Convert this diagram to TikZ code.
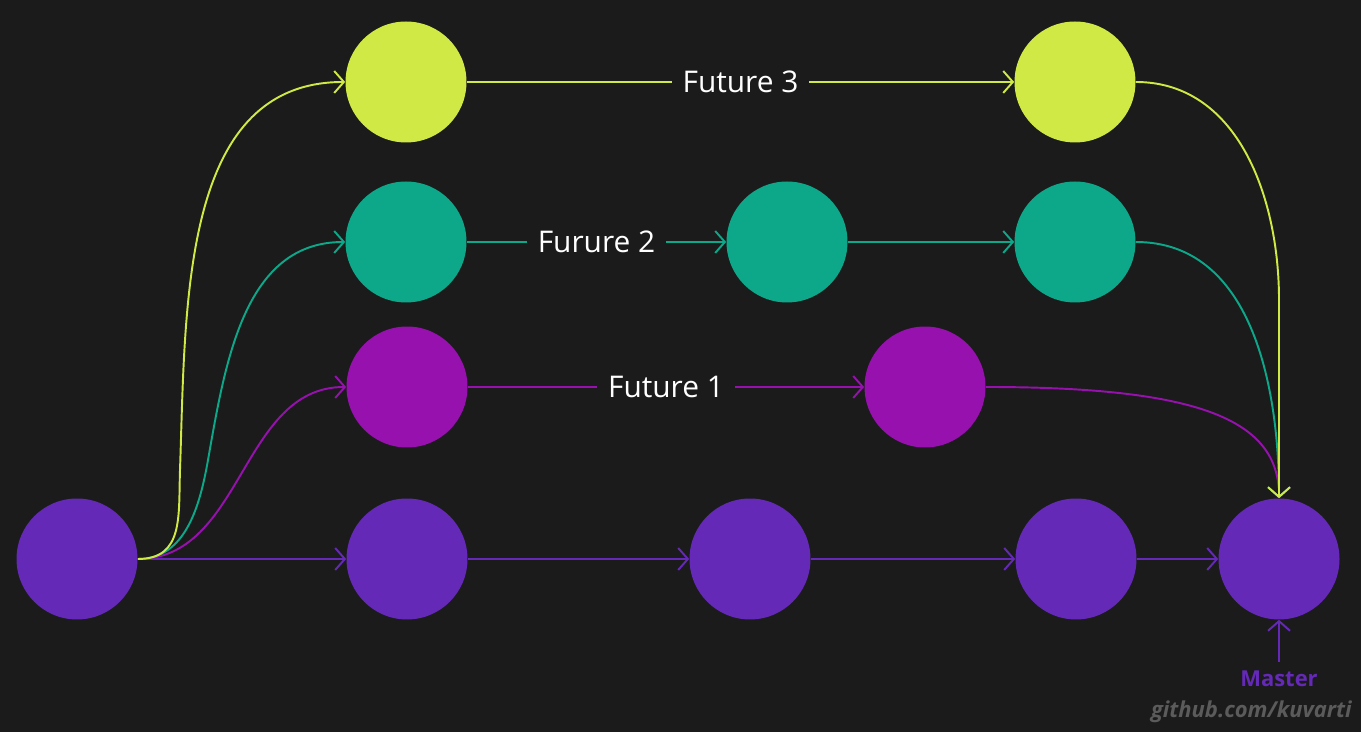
\documentclass[tikz,border=0pt]{standalone}
\usepackage{fontspec}
\setmainfont{Open Sans}
\usetikzlibrary{arrows.meta}
\definecolor{bg}{HTML}{1B1B1B}
\definecolor{master}{HTML}{6429B6}
\definecolor{f1}{HTML}{9611AD}
\definecolor{f2}{HTML}{0DA789}
\definecolor{f3}{HTML}{D1E944}
\definecolor{sig}{HTML}{5B5B5B}

\begin{document}
\begin{tikzpicture}[x=0.02cm, y=0.02cm, >={Straight Barb[length=5.5pt,width=12.5pt]},
  commit/.style={circle, minimum size=2.42cm, inner sep=0pt, fill=#1},
  branch/.style={line width=1.1pt, ->, draw=#1},
  lbl/.style={fill=bg, text=white, inner sep=0.22cm, font=\fontsize{17}{20}\selectfont}]
\useasboundingbox[fill=bg] (0,0) rectangle (1361,732);
\node[commit=master] (M0) at (77,173) {};
\node[commit=master] (M1) at (407,173) {};
\node[commit=master] (M2) at (750,173) {};
\node[commit=master] (M3) at (1076,173) {};
\node[commit=master] (M4) at (1279,173) {};
\node[commit=f1] (F1a) at (407,345) {};
\node[commit=f1] (F1b) at (925,345) {};
\node[commit=f2] (F2a) at (406,490) {};
\node[commit=f2] (F2b) at (787,490) {};
\node[commit=f2] (F2c) at (1075,490) {};
\node[commit=f3] (F3a) at (406,650) {};
\node[commit=f3] (F3b) at (1075,650) {};
\node[font=\bfseries\fontsize{12.5}{15}\selectfont, text=master, anchor=base] (mlabel) at (1279,45) {Master};
\node[font=\bfseries\itshape\fontsize{12.5}{15}\selectfont, text=sig, anchor=base east, inner sep=0pt] (sig) at (1352,14) {github.com/kuvarti};
\coordinate (mtail) at (1279,70);

\draw[branch=master] (M0) -- (M1);
\draw[branch=master] (M1) -- (M2);
\draw[branch=master] (M2) -- (M3);
\draw[branch=master] (M3) -- (M4);
\draw[branch=master] (mtail) -- (M4);
\draw[branch=f1] (M0.east) to[out=0,in=180] (F1a.west);
\draw[branch=f2] (M0.east) to[out=0,in=-100] (208,272) to[out=80,in=180] (F2a.west);
\draw[branch=f3] (M0.east) to[out=0,in=-92,looseness=1.2] (180,262) to[out=88,in=180] (F3a.west);
\draw[branch=f1] (F1a) -- node[lbl] {Future 1} (F1b);
\draw[branch=f2] (F2a) -- node[lbl] {Furure 2} (F2b);
\draw[branch=f2] (F2b) -- (F2c);
\draw[branch=f3] (F3a) -- node[lbl] {Future 3} (F3b);
\draw[branch=f1] (F1b.east) .. controls (1200,345) and (1279,312) .. (M4.north);
\draw[branch=f2] (F2c.east) to[out=0,in=90] (M4.north);
\draw[branch=f3] (F3b.east) to[out=0,in=90] (1279,432) -- (M4.north);
\end{tikzpicture}
\end{document}
